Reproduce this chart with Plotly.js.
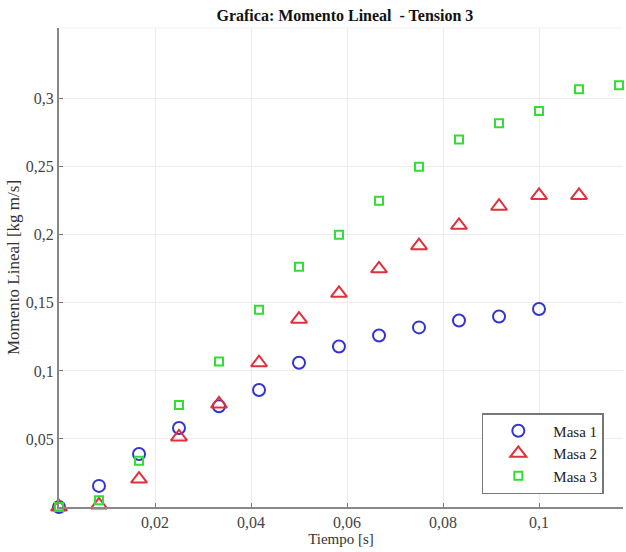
<!DOCTYPE html>
<html>
<head>
<meta charset="utf-8">
<script src="https://cdn.plot.ly/plotly-3.0.1.min.js"></script>
<style>html,body{margin:0;padding:0;background:#fff;}#chart{width:626px;height:552px;}</style>
</head>
<body>
<div id="chart"></div>
<script>
const tiempo = [0, 0.00833, 0.01667, 0.025, 0.03333, 0.04167, 0.05, 0.05833, 0.06667, 0.075, 0.08333, 0.09167, 0.1, 0.10833, 0.11667];
const masa1 = [0, 0.0155, 0.039, 0.058, 0.074, 0.086, 0.106, 0.118, 0.126, 0.132, 0.137, 0.140, 0.1455];
const masa2 = [0, 0.0015, 0.0205, 0.0515, 0.0757, 0.106, 0.138, 0.157, 0.175, 0.192, 0.207, 0.221, 0.229, 0.229];
const masa3 = [0, 0.005, 0.034, 0.075, 0.107, 0.145, 0.1765, 0.200, 0.225, 0.250, 0.270, 0.282, 0.291, 0.307, 0.310];
const seriesNames = ['Masa 1', 'Masa 2', 'Masa 3'];
const xTicks = [0.02, 0.04, 0.06, 0.08, 0.1];
const yTicks = [0.05, 0.1, 0.15, 0.2, 0.25, 0.3];

const font = 'Liberation Serif, Times New Roman, serif';
const traces = [
  {x: tiempo.slice(0, masa1.length), y: masa1, name: seriesNames[0], mode: 'markers', cliponaxis: false,
   marker: {symbol: 'circle-open', size: 12, color: '#3434d0', line: {width: 2}}},
  {x: tiempo.slice(0, masa2.length), y: masa2, name: seriesNames[1], mode: 'markers', cliponaxis: false,
   marker: {symbol: 'triangle-up-open', size: 14, color: '#e0303c', line: {width: 2}}},
  {x: tiempo.slice(0, masa3.length), y: masa3, name: seriesNames[2], mode: 'markers', cliponaxis: false,
   marker: {symbol: 'square-open', size: 8, color: '#33dd33', line: {width: 2}}}
];
const layout = {
  width: 626, height: 552,
  margin: {l: 59, r: 3, t: 28, b: 45},
  paper_bgcolor: '#fff', plot_bgcolor: '#fff',
  separators: ',.',
  font: {family: font, size: 15, color: '#333'},
  title: {text: '<b>Grafica: Momento Lineal  - Tension 3</b>', font: {family: font, size: 16, color: '#111'},
          x: 0.551, xanchor: 'center', y: 0.972, yanchor: 'middle'},
  xaxis: {range: [0, 0.1175], tickvals: xTicks, ticktext: xTicks.map(v => String(v).replace('.', ',')),
          ticks: 'inside', ticklen: 4, tickcolor: '#777', showline: true, linecolor: '#888', linewidth: 2,
          showgrid: true, gridcolor: '#ececec', zeroline: false,
          tickfont: {family: font, size: 16, color: '#444'},
          title: {text: 'Tiempo [s]', font: {family: font, size: 15, color: '#333'}, standoff: 2}},
  yaxis: {range: [0, 0.352], tickvals: yTicks, ticktext: yTicks.map(v => String(v).replace('.', ',')),
          ticks: 'inside', ticklen: 4, tickcolor: '#777', showline: true, linecolor: '#888', linewidth: 2,
          showgrid: true, gridcolor: '#ececec', zeroline: false,
          tickfont: {family: font, size: 16, color: '#444'},
          title: {text: 'Momento Lineal [kg m/s]', font: {family: font, size: 17, color: '#333'}, standoff: 2}},
  legend: {x: 0.966, xanchor: 'right', y: 0.027, yanchor: 'bottom', bgcolor: '#fff',
           bordercolor: '#777', borderwidth: 1.5, font: {family: font, size: 15, color: '#222'},
           itemwidth: 60, tracegroupgap: 0},
  shapes: [{type: 'line', xref: 'paper', yref: 'paper', x0: 0, x1: 1, y0: 1, y1: 1,
            line: {color: '#f0f0f0', width: 1}}],
  showlegend: true
};
Plotly.newPlot('chart', traces, layout, {displayModeBar: false, staticPlot: true});
</script>
</body>
</html>
